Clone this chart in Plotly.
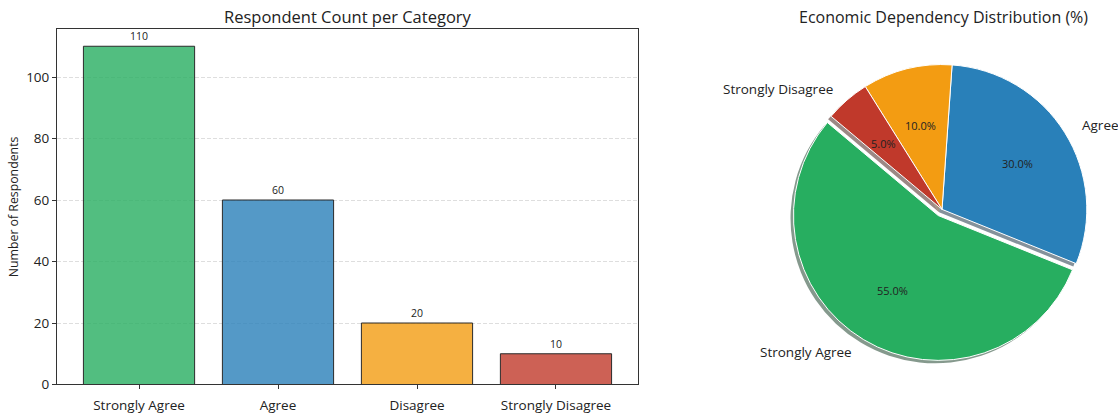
import math
import plotly.graph_objects as go

# Survey responses
categories = ["Strongly Agree", "Agree", "Disagree", "Strongly Disagree"]
counts = [110, 60, 20, 10]
base_colors = ["#27ae60", "#2980b9", "#f39c12", "#c0392b"]
explode = [0.05, 0, 0, 0]
y_ticks = [0, 20, 40, 60, 80, 100]

W, H = 1118, 416
FONT = "Open Sans"
TEXT = "#222222"


def hex_rgb(h):
    h = h.lstrip("#")
    return tuple(int(h[i:i + 2], 16) for i in (0, 2, 4))


def rgba(h, a):
    r, g, b = hex_rgb(h)
    return f"rgba({r},{g},{b},{a})"


def shade(h, f, a):
    r, g, b = hex_rgb(h)
    return f"rgba({int(r * f)},{int(g * f)},{int(b * f)},{a})"


# ---- pixel geometry of the two panels ----
bar_x0, bar_x1 = 57, 638
bar_top, bar_bot = 30, 393

pie_cx, pie_cy, pie_r = 942, 214, 148
max_pull = max(explode)
half = pie_r * (1 + max_pull)  # plotly pie radius = half-side / (1 + max pull)
shadow_off = 0.02 * pie_r


def px_domain_x(a, b):
    return [a / W, b / W]


def px_domain_y(top, bottom):
    return [1 - bottom / H, 1 - top / H]


fig = go.Figure()

# ---- bar chart ----
fig.add_trace(go.Bar(
    x=categories,
    y=counts,
    width=0.8,
    marker=dict(color=[rgba(c, 0.8) for c in base_colors],
                line=dict(color="#2b2b2b", width=1)),
    text=[str(v) for v in counts],
    textposition="outside",
    textfont=dict(size=10.5, color=TEXT, family=FONT),
    cliponaxis=False,
    hoverinfo="skip",
    xaxis="x", yaxis="y",
))

# ---- pie: wedges run counter-clockwise from start_angle (measured from 3 o'clock) ----
total = sum(counts)
start_angle = 140
first_span = 360 * counts[0] / total
# plotly puts the first slice clockwise of `rotation` and the rest counter-clockwise
pie_rotation = 90 - (start_angle + first_span)
while pie_rotation < -360:
    pie_rotation += 360

# shadow (drawn first, offset down-left)
fig.add_trace(go.Pie(
    labels=categories,
    values=counts,
    sort=False,
    direction="counterclockwise",
    rotation=pie_rotation,
    pull=explode,
    marker=dict(colors=[shade(c, 0.3, 0.5) for c in base_colors],
                line=dict(width=0)),
    textinfo="none",
    hoverinfo="skip",
    showlegend=False,
    domain=dict(x=px_domain_x(pie_cx - half - shadow_off, pie_cx + half - shadow_off),
                y=px_domain_y(pie_cy - half + shadow_off, pie_cy + half + shadow_off)),
))

fig.add_trace(go.Pie(
    labels=categories,
    values=counts,
    sort=False,
    direction="counterclockwise",
    rotation=pie_rotation,
    pull=explode,
    marker=dict(colors=base_colors, line=dict(color="white", width=1)),
    textinfo="none",
    hoverinfo="skip",
    showlegend=False,
    domain=dict(x=px_domain_x(pie_cx - half, pie_cx + half),
                y=px_domain_y(pie_cy - half, pie_cy + half)),
))

# hidden axes spanning the pie box, in units of the pie radius
fig.add_trace(go.Scatter(x=[], y=[], xaxis="x2", yaxis="y2", showlegend=False))

annotations = []
cum = 0
for cat, v, e in zip(categories, counts, explode):
    t1 = start_angle + 360 * cum / total
    t2 = t1 + 360 * v / total
    cum += v
    tm = math.radians((t1 + t2) / 2)
    c, s = math.cos(tm), math.sin(tm)
    annotations.append(dict(
        x=(e + 0.6) * c, y=(e + 0.6) * s, xref="x2", yref="y2",
        text=f"{100 * v / total:.1f}%", showarrow=False,
        font=dict(size=11, color=TEXT, family=FONT),
        xanchor="center", yanchor="middle",
    ))
    annotations.append(dict(
        x=(e + 1.1) * c, y=(e + 1.1) * s, xref="x2", yref="y2",
        text=cat, showarrow=False,
        font=dict(size=13.5, color=TEXT, family=FONT),
        xanchor="left" if c > 0 else "right", yanchor="middle",
    ))

# titles
annotations.append(dict(
    x=(bar_x0 + bar_x1) / 2 / W, y=1 - 17 / H, xref="paper", yref="paper",
    text="Respondent Count per Category", showarrow=False,
    font=dict(size=16.5, color=TEXT, family=FONT), xanchor="center", yanchor="middle",
))
annotations.append(dict(
    x=943 / W, y=1 - 17 / H, xref="paper", yref="paper",
    text="Economic Dependency Distribution (%)", showarrow=False,
    font=dict(size=16, color=TEXT, family=FONT), xanchor="center", yanchor="middle",
))

axis_line = dict(showline=True, linecolor="#333333", linewidth=1, mirror=True)

fig.update_layout(
    width=W, height=H,
    margin=dict(l=0, r=0, t=0, b=0),
    paper_bgcolor="white",
    plot_bgcolor="white",
    showlegend=False,
    font=dict(family=FONT, color=TEXT),
    xaxis=dict(
        domain=px_domain_x(bar_x0, bar_x1),
        range=[-0.59, 3.59],
        type="category",
        ticks="outside", ticklen=4, tickcolor="#333333",
        tickfont=dict(size=13.5, color=TEXT),
        ticklabelstandoff=4,
        showgrid=False, zeroline=False,
        anchor="y",
        **axis_line,
    ),
    yaxis=dict(
        domain=px_domain_y(bar_top, bar_bot),
        range=[0, 115.5],
        tickvals=y_ticks,
        ticks="outside", ticklen=4, tickcolor="#333333",
        tickfont=dict(size=13.5, color=TEXT),
        showgrid=True, gridcolor="rgba(0,0,0,0.13)", griddash="4px,2px", gridwidth=1,
        zeroline=False,
        title=dict(text="Number of Respondents", font=dict(size=12.3, color=TEXT), standoff=4),
        anchor="x",
        **axis_line,
    ),
    xaxis2=dict(
        domain=px_domain_x(pie_cx - half, pie_cx + half),
        range=[-(1 + max_pull), 1 + max_pull],
        visible=False, anchor="y2",
    ),
    yaxis2=dict(
        domain=px_domain_y(pie_cy - half, pie_cy + half),
        range=[-(1 + max_pull), 1 + max_pull],
        visible=False, anchor="x2",
    ),
    annotations=annotations,
)

fig.write_html("out.html")
